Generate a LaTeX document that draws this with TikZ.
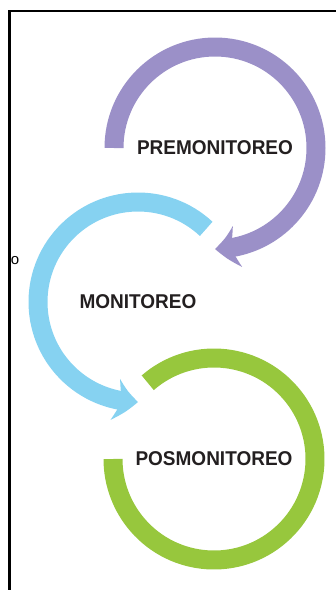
\documentclass[tikz,border=0pt]{standalone}
\usepackage{fontspec}
\setmainfont{Liberation Sans}
\usetikzlibrary{arrows.meta,bending}
\definecolor{lila}{HTML}{9B90C8}
\definecolor{celeste}{HTML}{86D2F1}
\definecolor{verde}{HTML}{97C73D}
\definecolor{tinta}{HTML}{231F20}
\tikzset{
  anillo/.style={draw=#1, line width=19pt},
  punta/.style={-{Stealth[length=23pt, width=42pt, inset=7pt, line width=0pt, bend]}},
  rotulo/.style={font=\bfseries\fontsize{19}{19}\selectfont, text=tinta, inner sep=0pt, yscale=1.05},
  marco/.style={line width=2.5pt, draw=black},
}
\begin{document}
\begin{tikzpicture}[x=1pt, y=1pt]
\useasboundingbox (0,0) rectangle (336,-590);
\draw[marco] (9.7,-590) -- (9.7,-11.2) -- (336,-11.2);
\node[inner sep=0pt, font=\fontsize{15}{15}\selectfont] (marca) at (15,-261) {o};
% etapas
\node[rotulo] (pre) at (215,-148) {PREMONITOREO};
\node[rotulo] (mon) at (138,-302) {MONITOREO};
\node[rotulo] (pos) at (214,-459) {POSMONITOREO};
% anillos
\draw[anillo=lila, punta] ([shift={(180:101)}]pre.center) arc[start angle=180, end angle=-90, radius=101];
\draw[anillo=celeste, punta] ([shift={(47:100)}]mon.center) arc[start angle=47, end angle=270, radius=100];
\draw[anillo=verde] ([shift={(131:101)}]pos.center) arc[start angle=131, end angle=-180, radius=101];
\end{tikzpicture}
\end{document}
